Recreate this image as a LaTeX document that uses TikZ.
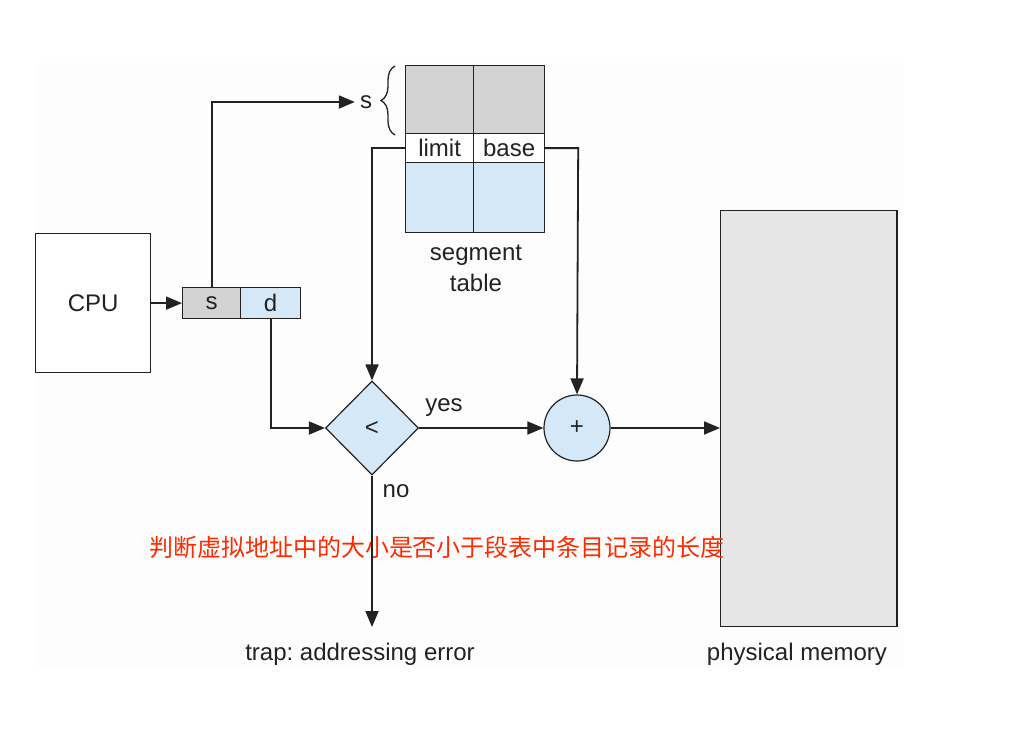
\documentclass[tikz,border=0pt]{standalone}
\usepackage{fontspec}
\setmainfont{Liberation Sans}
\newfontfamily\cjk{Noto Sans CJK SC}
\usetikzlibrary{arrows.meta,shapes.geometric,decorations.pathreplacing}
\definecolor{segblue}{HTML}{D4E8F7}
\definecolor{seggray}{HTML}{D3D3D3}
\definecolor{memgray}{HTML}{E6E6E6}
\definecolor{txt}{HTML}{222222}
\definecolor{redtxt}{HTML}{FF2A00}
\definecolor{bgpanel}{HTML}{FDFDFD}
\frenchspacing
\tikzset{
  box/.style={draw=txt,line width=1.2pt,inner sep=0pt,anchor=north west},
  lbl/.style={font=\fontsize{24}{28}\selectfont,text=txt,inner sep=0pt},
  conn/.style={draw=txt,line width=1.8pt,-{Triangle[length=16pt,width=13pt]}},
}
\begin{document}
\begin{tikzpicture}[x=1pt,y=-1pt]
\useasboundingbox (0,0) rectangle (1010,745);
\fill[white] (0,0) rectangle (1010,745);
\fill[bgpanel] (38,63) rectangle (903,668);
% CPU
\node[box,fill=white,minimum width=115pt,minimum height=139pt] (cpu) at (35,233) {};
\node[lbl] at (cpu.center) {CPU};
% s d register
\node[box,fill=seggray,minimum width=58pt,minimum height=31pt] (s) at (182,287) {};
\node[lbl] at (s.center) {s};
\node[box,fill=segblue,minimum width=60pt,minimum height=31pt] (d) at (240,287) {};
\node[lbl] at (d.center) {d};
% segment table
\node[box,fill=seggray,minimum width=68pt,minimum height=68pt] (g1) at (405,65) {};
\node[box,fill=seggray,minimum width=71pt,minimum height=68pt] (g2) at (473,65) {};
\node[box,fill=white,minimum width=68pt,minimum height=29pt] (lim) at (405,133) {};
\node[box,fill=white,minimum width=71pt,minimum height=29pt] (bas) at (473,133) {};
\node[lbl] at (lim.center) {limit};
\node[lbl] at (bas.center) {base};
\node[box,fill=segblue,minimum width=68pt,minimum height=70pt] (b1) at (405,162) {};
\node[box,fill=segblue,minimum width=71pt,minimum height=70pt] (b2) at (473,162) {};
\node[lbl,align=center] (segt) at (476,268) {segment\\[3pt]table};
% brace and s label
\draw[txt,line width=1.3pt,decorate,decoration={brace,amplitude=14pt}] (395,135) -- (395,66);
\node[lbl] (slab) at (366,102) {s};
% comparator and adder
\node[diamond,draw=txt,line width=1.2pt,fill=segblue,minimum width=93pt,minimum height=94pt,inner sep=0pt] (cmp) at (372,428) {};
\node[lbl] at (cmp.center) {<};
\node[circle,draw=txt,line width=1.2pt,fill=segblue,minimum size=66pt,inner sep=0pt] (add) at (577,428) {};
\node[lbl] at (add.center) {+};
% memory
\node[box,fill=memgray,minimum width=176pt,minimum height=416pt] (mem) at (720,210) {};
\draw[txt,line width=2.5pt] (mem.north east) -- (mem.south east);
% labels
\node[lbl] (yes) at (444,408) {yes};
\node[lbl] (no) at (396,491) {no};
\node[lbl] (trap) at (360,654) {trap: addressing error};
\node[lbl] (pm) at (797,654) {physical memory};
\node[font=\cjk\fontsize{24}{28}\selectfont,text=redtxt,inner sep=0pt] (note) at (437,547) {判断虚拟地址中的大小是否小于段表中条目记录的长度};
\coordinate (trapend) at (372,627);
% connectors
\draw[conn] (cpu.east) -- (s.west);
\draw[conn] (s.north) |- ([xshift=-5pt]slab.west);
\draw[conn] (lim.west) -- ++(-33,0) -- (cmp.north);
\draw[conn] (bas.east) -- ++(33,0) -- (add.north);
\draw[conn] (d.south) |- (cmp.west);
\draw[conn] (cmp.east) -- (add.west);
\draw[conn] (add.east) -- (mem.west |- add.east);
\draw[conn] (cmp.south) -- (trapend);
\end{tikzpicture}
\end{document}
